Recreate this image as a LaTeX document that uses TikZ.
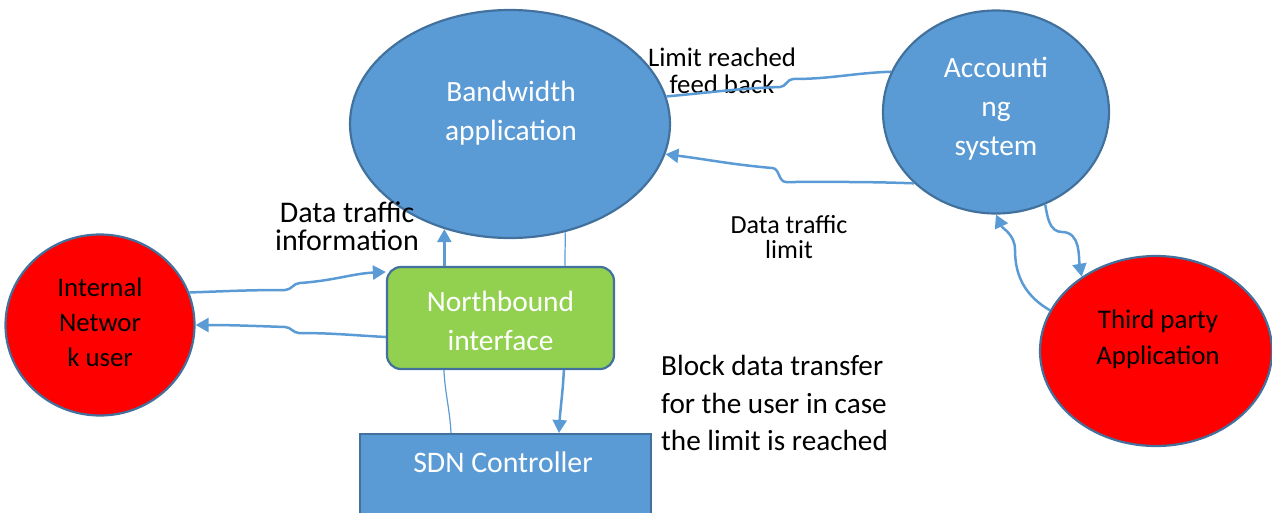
\documentclass[tikz,border=0pt]{standalone}
\usepackage{fontspec}
\setmainfont{Carlito}
\usetikzlibrary{shapes.geometric,arrows.meta}
\definecolor{obl}{HTML}{5B9BD5}
\definecolor{obd}{HTML}{41719C}
\definecolor{ogr}{HTML}{92D050}
\definecolor{ored}{HTML}{FF0000}
\tikzset{
  shp/.style={draw=obd, line width=2.2pt},
  ell/.style={shp, ellipse, inner sep=0pt},
  conn/.style={draw=obl, line width=2.5pt},
  thinconn/.style={draw=obl, line width=1.2pt},
  tip/.style={-{Triangle[length=13pt,width=14pt]}},
  wt/.style={text=white, align=center, inner sep=0pt},
  bt/.style={text=black, align=center, inner sep=0pt},
}
\begin{document}
\begin{tikzpicture}[x=1pt,y=1pt]
\useasboundingbox (0,0) rectangle (1272,-512);

% shapes
\node[ell, fill=obl, minimum width=320pt, minimum height=228pt] (bw) at (510,-124) {};
\node[wt, font=\fontsize{29.4}{39}\selectfont] (bwt) at (511,-113) {Bandwidth\\application};

\node[ell, fill=obl, minimum width=226pt, minimum height=203pt] (acc) at (996,-112) {};
\node[wt, font=\fontsize{29.4}{39}\selectfont] (acct) at (996,-109) {Accounti\\ng\\system};

\node[ell, fill=ored, minimum width=232pt, minimum height=190pt] (tp) at (1156,-351) {};
\node[bt, font=\fontsize{26.9}{36}\selectfont] (tpt) at (1158,-339) {Third party\\Application};

\node[ell, fill=ored, minimum width=189pt, minimum height=181pt] (int) at (100,-325) {};
\node[bt, font=\fontsize{26.8}{35}\selectfont] (intt) at (100,-322) {Internal\\Networ\\k user};

\node[shp, fill=ogr, rounded corners=14pt, minimum width=227pt, minimum height=102pt] (nb) at (500.5,-318) {};
\node[wt, font=\fontsize{29.4}{39}\selectfont] (nbt) at (500.5,-321) {Northbound\\interface};

\node[shp, fill=obl, minimum width=291pt, minimum height=120pt, anchor=north west] (sdn) at (359,-433) {};
\node[wt, font=\fontsize{29.8}{34}\selectfont] (sdnt) at (503,-462) {SDN Controller};

% labels
\node[bt, font=\fontsize{26.8}{27}\selectfont] (lrf) at (722,-71) {Limit reached\\feed back};
\node[bt, font=\fontsize{26.1}{25}\selectfont] (dtl) at (789,-237) {Data traffic\\limit};
\node[bt, font=\fontsize{30}{28}\selectfont] (dti) at (347,-226) {Data traffic\\information};
\node[bt, align=left, anchor=west, font=\fontsize{29.2}{37.5}\selectfont] (blk) at (661,-403) {Block data transfer\\for the user in case\\the limit is reached};

% connectors
\draw[conn] (acc.159) to[out=182,in=0] (793,-79) to[out=180,in=0] (780,-87) to[out=182,in=5] (bw.10);
\draw[conn,tip] (acc.221) to[out=178,in=0] (786,-182) to[out=180,in=0] (772,-168) to[out=175,in=-7] (bw.349);

\draw[conn,tip] (nb.north -| bw.238) -- (bw.238);
\draw[thinconn] (bw.297) to[out=-88,in=92] (nb.north -| bw.297);

\draw[conn,tip] (int.20) to[out=2,in=180] (285,-290) to[out=0,in=180] (300,-283) to[out=4,in=183] ([yshift=-6pt]nb.north west);
\draw[conn,tip] ([yshift=-19pt]nb.west) to[out=177,in=0] (299,-333) to[out=180,in=0] (285,-327) to[out=178,in=0] (int.east);

\draw[thinconn] ([xshift=58pt]nb.south west) to[out=-87,in=93] ([xshift=92pt]sdn.north west);
\draw[conn,tip] ([xshift=178pt]nb.south west) to[out=-93,in=87] ([xshift=200pt]sdn.north west);

\draw[conn,tip] (acc.298) to[out=-80,in=180] (1062,-232) to[out=0,in=100] (tp.135);
\draw[conn,tip] (tp.159) to[out=150,in=-90] (1015,-250) to[out=90,in=-65] (acc.270);
\end{tikzpicture}
\end{document}
